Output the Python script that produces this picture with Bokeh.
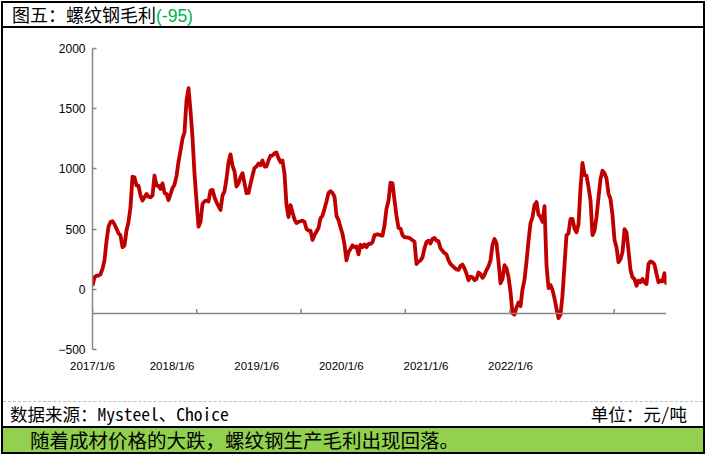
import numpy as np
import pandas as pd
from bokeh.plotting import figure
from bokeh.models import Div, Span, FixedTicker, Range1d
from bokeh.layouts import column
from bokeh.embed import file_html
from bokeh.resources import INLINE

# ---------------- data ----------------
start_date = "2017-01-06"
margin_values = [
    30, 100, 113, 113, 125, 170, 240, 400, 520, 560,
    565, 540, 502, 465, 446, 350, 363, 488, 560, 681,
    935, 930, 861, 861, 780, 737, 764, 792, 770, 764,
    780, 945, 861, 861, 834, 880, 800, 792, 740, 790,
    840, 870, 940, 1060, 1150, 1250, 1305, 1568, 1670, 1485,
    1263, 959, 737, 520, 560, 709, 731, 737, 730, 820,
    826, 764, 723, 690, 659, 778, 815, 917, 1055, 1120,
    1028, 980, 853, 880, 931, 965, 880, 798, 800, 875,
    945, 1008, 1020, 1045, 1030, 1069, 1020, 1020, 1070, 1111,
    1111, 1130, 1136, 1090, 1055, 1070, 960, 700, 600, 700,
    640, 580, 550, 560, 565, 570, 560, 500, 488, 488,
    410, 450, 480, 510, 590, 610, 670, 730, 800, 815,
    800, 770, 610, 575, 515, 460, 370, 240, 310, 335,
    365, 350, 355, 290, 370, 350, 372, 350, 377, 377,
    390, 450, 455, 455, 448, 446, 530, 670, 735, 885,
    880, 740, 610, 510, 505, 450, 432, 432, 430, 420,
    408, 395, 210, 230, 240, 265, 340, 392, 404, 380,
    420, 426, 404, 400, 340, 320, 300, 290, 240, 210,
    195, 178, 165, 161, 195, 205, 172, 130, 75, 105,
    100, 75, 86, 140, 127, 95, 120, 160, 190, 240,
    370, 418, 380, 230, 50, 86, 200, 175, 100, -20,
    -200, -210, -150, -110, -140, 0, 80, 230, 400, 550,
    600, 700, 725, 620, 600, 560, 690, 200, 10, 35,
    -5, -75, -160, -240, -210, -50, 200, 450, 465, 584,
    584, 505, 474, 540, 840, 1050, 950, 944, 850, 740,
    450, 487, 598, 760, 915, 985, 965, 920, 795, 750,
    615, 410, 350, 225, 250, 307, 500, 474, 321, 160,
    100, 86, 30, 72, 58, 86, 58, 44, 210, 232,
    224, 205, 127, 58, 72, 66, 133, 39,
]
year_ticks = ["2017-01-06", "2018-01-06", "2019-01-06",
              "2020-01-06", "2021-01-06", "2022-01-06"]
year_labels = ["2017/1/6", "2018/1/6", "2019/1/6",
               "2020/1/6", "2021/1/6", "2022/1/6"]
y_ticks = [-500, 0, 500, 1000, 1500, 2000]
title_text = "图五：螺纹钢毛利"
title_value = "(-95)"
source_text = "数据来源：Mysteel、Choice"
unit_text = "单位：元/吨"
note_text = "随着成材价格的大跌，螺纹钢生产毛利出现回落。"
axis_cross = -200

# ---------------- build ----------------
dates = pd.date_range(start_date, periods=len(margin_values), freq="7D")

def ms(ts):
    return int(pd.Timestamp(ts).value // 10**6)

W = 700
p = figure(width=W, height=373, x_axis_type="datetime",
           output_backend="svg", toolbar_location=None,
           min_border_left=89, min_border_right=37,
           min_border_top=20, min_border_bottom=52, margin=0)
p.x_range = Range1d(dates[0], dates[-1])
p.y_range = Range1d(-500, 2000)
p.grid.grid_line_color = None
p.outline_line_color = None
p.background_fill_color = "white"
p.border_fill_color = "white"

p.line(dates, margin_values, line_color="#C00000", line_width=3.8,
       line_join="round")

# horizontal axis line crossing at -200
p.add_layout(Span(location=axis_cross, dimension="width",
                  line_color="#868686", line_width=1.5))
tick_x = [pd.Timestamp(t) for t in year_ticks]
p.segment(x0=tick_x, y0=[axis_cross] * len(tick_x), x1=tick_x,
          y1=[axis_cross + 36] * len(tick_x), line_color="#868686",
          line_width=1.5)

# y axis
ya = p.yaxis[0]
ya.ticker = FixedTicker(ticks=y_ticks)
ya.major_tick_in = 4
ya.major_tick_out = 0
ya.minor_tick_line_color = None
ya.axis_line_color = "#868686"
ya.axis_line_width = 1.5
ya.major_tick_line_color = "#868686"
ya.major_tick_line_width = 1.5
ya.major_label_text_font = "Liberation Sans"
ya.major_label_text_font_size = "12px"
ya.major_label_text_color = "black"
ya.major_label_standoff = 7

# x axis: labels only, placed in Excel's spacing
week_ms = 7 * 24 * 3600 * 1000
start_ms = ms(dates[0])
label_pos = [max(start_ms, int(start_ms + (k * 42.3 - 2.5) * week_ms))
             for k in range(len(year_labels))]
xa = p.xaxis[0]
xa.ticker = FixedTicker(ticks=label_pos)
xa.major_label_overrides = {v: lab for v, lab in zip(label_pos, year_labels)}
xa.axis_line_color = None
xa.major_tick_line_color = None
xa.minor_tick_line_color = None
xa.major_tick_out = 0
xa.major_label_text_font = "Liberation Sans"
xa.major_label_text_font_size = "11.5px"
xa.major_label_text_color = "black"
xa.major_label_standoff = 10

cjk = "'Noto Sans Mono CJK SC', 'Noto Sans CJK SC', sans-serif"

title = Div(
    text=(f'<span style="font-family:{cjk};font-size:18px;color:black">{title_text}</span>'
          f'<span style="font-family:Liberation Sans;font-size:17.5px;color:#00B050">{title_value}</span>'),
    width=W, height=25, margin=0,
    styles={"border-bottom": "2px solid black", "box-sizing": "border-box",
            "padding-left": "9px", "line-height": "23px",
            "background-color": "white"})

footer = Div(
    text=(f'<div style="display:flex;justify-content:space-between;width:{W - 23}px;'
          f'font-family:{cjk};font-size:17.5px;color:black;line-height:23px">'
          f'<span>{source_text}</span><span>{unit_text}</span></div>'),
    width=W, height=25, margin=0,
    styles={"border-top": "1px dashed #bfbfbf", "box-sizing": "border-box",
            "padding-left": "7px", "background-color": "white"})

band = Div(
    text=(f'<span style="font-family:{cjk};font-size:19.5px;color:black">{note_text}</span>'),
    width=W, height=26, margin=0,
    styles={"border-top": "2px solid black", "box-sizing": "border-box",
            "padding-left": "27px", "line-height": "24px",
            "background-color": "#92D050"})

layout = column(title, p, footer, band, margin=(1, 1, 1, 1), spacing=0,
                styles={"border": "2px solid black"})

open("out.html", "w").write(file_html(layout, INLINE))
